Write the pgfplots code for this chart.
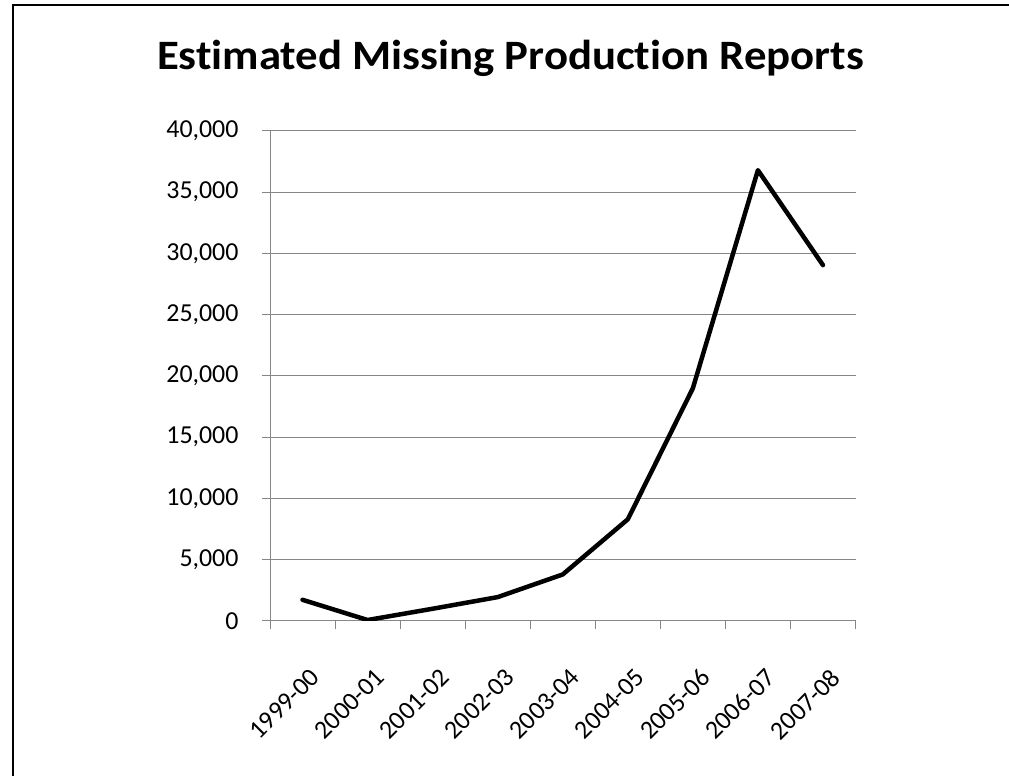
\documentclass[border=0pt]{standalone}
\usepackage{pgfplots}
\pgfplotsset{compat=1.18}
\usepackage{fontspec}
\setmainfont{Carlito}[Ligatures=NoCommon]
\definecolor{axisgray}{RGB}{134,134,134}

\begin{document}
\begin{tikzpicture}
  % page size and the frame along the left and top edges
  \path[use as bounding box] (0bp,0bp) rectangle (1009bp,776bp);
  \draw[line width=2bp,black] (13bp,0bp) -- (13bp,771bp) -- (1009bp,771bp);

  % title
  \node[anchor=base,font=\fontsize{42}{50}\selectfont\bfseries,inner sep=0pt]
    at (510.5bp,706.7bp) {\scalebox{1.07}[1]{Estimated Missing Production Reports}};

  \begin{axis}[
    at={(270bp,155bp)}, anchor=south west,
    scale only axis,
    width=585.5bp, height=490bp,
    xmin=-0.5, xmax=8.5,
    ymin=0, ymax=40000,
    axis x line*=bottom, axis y line*=left,
    axis line style={axisgray, line width=1bp, -},
    % tick marks sit on the category boundaries
    xtick={-0.5,0.5,...,8.5},
    xticklabels={},
    % category names sit at the category centres
    extra x ticks={0,...,8},
    extra x tick labels={1999-00,2000-01,2001-02,2002-03,2003-04,2004-05,2005-06,2006-07,2007-08},
    extra x tick style={major tick length=0pt, xtick style={draw=none}},
    major tick length=8bp,
    tick align=outside,
    tick style={axisgray, line width=1bp},
    ytick={0,5000,...,40000},
    ymajorgrids,
    grid style={axisgray, line width=1bp},
    scaled y ticks=false,
    /pgf/number format/.cd, 1000 sep={,}, assume math mode=true,
    /pgfplots/.cd,
    ticklabel style={font=\fontsize{26}{30}\selectfont, black},
    yticklabel style={xshift=-20bp},
    xticklabel style={rotate=45, anchor=north east, inner sep=0pt, xshift=-28bp, yshift=-37bp},
  ]
    \addplot[black, line width=4.5bp, line join=round, line cap=round] coordinates {
      (0,1730) (1,80) (2,1000) (3,1950) (4,3800)
      (5,8300) (6,19000) (7,36800) (8,29050)
    };
  \end{axis}
\end{tikzpicture}
\end{document}
